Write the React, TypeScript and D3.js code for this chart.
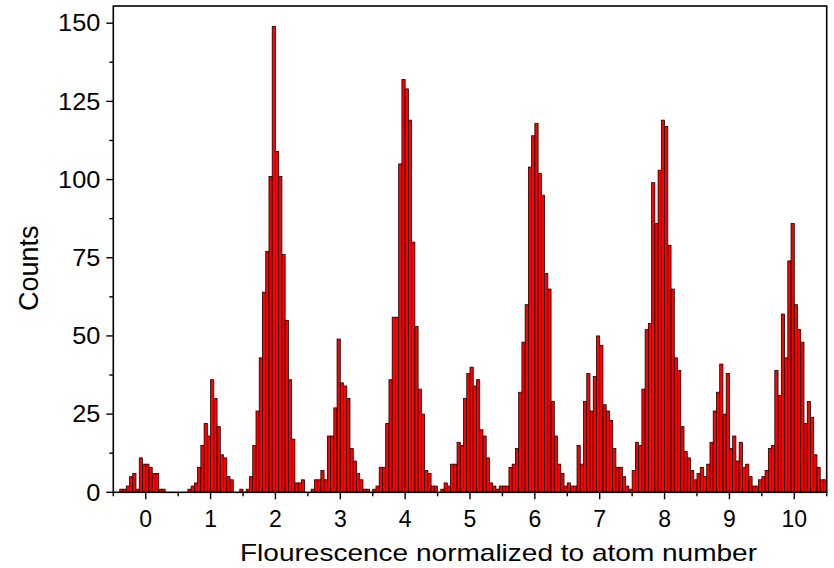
import React from "react";
import * as d3 from "d3";

// Histogram: first bin starts at BIN_START, each bin is BIN_WIDTH wide
const BIN_START = -0.5;
const BIN_WIDTH = 0.05;
const counts: number[] = [
  // -0.5 .. -0.05
  0, 0, 1, 1, 2, 5, 6, 1, 11, 9,
  // 0.0 .. 0.45
  9, 8, 6, 6, 1, 1, 0, 0, 0, 0,
  // 0.5 .. 0.95
  0, 0, 0, 1, 2, 3, 8, 15, 22, 18,
  // 1.0 .. 1.45
  36, 30, 21, 12, 11, 5, 4, 0, 0, 1,
  // 1.5 .. 1.95
  0, 1, 5, 15, 26, 43, 64, 77, 101, 149,
  // 2.0 .. 2.45
  109, 101, 76, 55, 36, 17, 3, 3, 4, 0,
  // 2.5 .. 2.95
  0, 1, 4, 4, 7, 4, 18, 18, 27, 49,
  // 3.0 .. 3.45
  35, 34, 30, 14, 10, 6, 4, 1, 1, 0,
  // 3.5 .. 3.95
  1, 2, 8, 8, 22, 36, 56, 56, 105, 132,
  // 4.0 .. 4.45
  129, 119, 80, 53, 33, 25, 7, 6, 2, 2,
  // 4.5 .. 4.95
  0, 1, 3, 2, 9, 9, 16, 15, 30, 38,
  // 5.0 .. 5.45
  40, 34, 36, 20, 18, 11, 3, 2, 1, 2,
  // 5.5 .. 5.95
  2, 2, 8, 9, 14, 32, 48, 60, 104, 114,
  // 6.0 .. 6.45
  118, 102, 95, 70, 65, 29, 18, 9, 6, 2,
  // 6.5 .. 6.95
  3, 2, 2, 15, 9, 29, 38, 26, 37, 50,
  // 7.0 .. 7.45
  47, 28, 26, 23, 14, 8, 8, 5, 2, 1,
  // 7.5 .. 7.95
  7, 16, 15, 33, 52, 54, 99, 86, 103, 119,
  // 8.0 .. 8.45
  117, 79, 65, 43, 39, 21, 13, 11, 7, 4,
  // 8.5 .. 8.95
  6, 8, 5, 9, 16, 26, 32, 41, 25, 38,
  // 9.0 .. 9.45
  14, 18, 10, 16, 8, 9, 5, 2, 2, 4,
  // 9.5 .. 9.95
  5, 7, 14, 15, 39, 31, 57, 43, 74, 86,
  // 10.0 .. 10.45
  60, 52, 48, 22, 29, 24, 12, 8, 4, 4,
];

const xTicks: number[] = [0, 1, 2, 3, 4, 5, 6, 7, 8, 9, 10];
const xMinorTicks: number[] = [-0.5, 0.5, 1.5, 2.5, 3.5, 4.5, 5.5, 6.5, 7.5, 8.5, 9.5, 10.5];
const yTicks: number[] = [0, 25, 50, 75, 100, 125, 150];
const yMinorTicks: number[] = [12.5, 37.5, 62.5, 87.5, 112.5, 137.5];
const xTitle = "Flourescence normalized to atom number";
const yTitle = "Counts";

const W = 834;
const H = 568;
const M = { left: 113.3, right: 826.7, top: 6, bottom: 492.3 };
const FONT = "'Liberation Sans', Arial, sans-serif";

export default function App() {
  const x = d3.scaleLinear().domain([-0.5, 10.5]).range([M.left, M.right]);
  const y = d3.scaleLinear().domain([0, 155.5]).range([M.bottom, M.top]);

  const bins = counts.map((c, i) => {
    const x0 = BIN_START + i * BIN_WIDTH;
    return { x0, x1: x0 + BIN_WIDTH, c };
  });

  return (
    <svg
      width={W}
      height={H}
      style={{ position: "absolute", left: 0, top: 0, background: "#fff" }}
    >
      <rect x={0} y={0} width={W} height={H} fill="#fff" />
      <g>
        {bins
          .filter((b) => b.c > 0)
          .map((b, i) => (
            <rect
              key={i}
              x={x(b.x0)}
              y={y(b.c)}
              width={x(b.x1) - x(b.x0)}
              height={y(0) - y(b.c)}
              fill="#ff0000"
              stroke="#000"
              strokeWidth={0.75}
            />
          ))}
      </g>
      {/* frame */}
      <rect
        x={M.left}
        y={M.top}
        width={M.right - M.left}
        height={M.bottom - M.top}
        fill="none"
        stroke="#000"
        strokeWidth={1.6}
      />
      {/* y ticks */}
      {yTicks.map((t) => (
        <g key={"yt" + t}>
          <line x1={M.left - 7} x2={M.left} y1={y(t)} y2={y(t)} stroke="#000" strokeWidth={1.4} />
          <text
            transform={`translate(${M.left - 13}, ${y(t)}) scale(1.1, 1)`}
            dy="0.36em"
            textAnchor="end"
            fontFamily={FONT}
            fontSize={23}
            fill="#000"
          >
            {t}
          </text>
        </g>
      ))}
      {yMinorTicks.map((t) => (
        <line key={"ym" + t} x1={M.left - 4} x2={M.left} y1={y(t)} y2={y(t)} stroke="#000" strokeWidth={1.4} />
      ))}
      {/* x ticks */}
      {xTicks.map((t) => (
        <g key={"xt" + t}>
          <line x1={x(t)} x2={x(t)} y1={M.bottom} y2={M.bottom + 7} stroke="#000" strokeWidth={1.4} />
          <text
            x={x(t)}
            y={526.5}
            textAnchor="middle"
            fontFamily={FONT}
            fontSize={23}
            fill="#000"
          >
            {t}
          </text>
        </g>
      ))}
      {xMinorTicks.map((t) => (
        <line key={"xm" + t} x1={x(t)} x2={x(t)} y1={M.bottom} y2={M.bottom + 4} stroke="#000" strokeWidth={1.4} />
      ))}
      {/* titles */}
      <text
        x={498.5}
        y={561}
        textAnchor="middle"
        fontFamily={FONT}
        fontSize={24}
        textLength={517}
        lengthAdjust="spacingAndGlyphs"
        fill="#000"
      >
        {xTitle}
      </text>
      <text
        transform={`translate(37.5, 268.3) rotate(-90)`}
        textAnchor="middle"
        fontFamily={FONT}
        fontSize={27}
        fill="#000"
      >
        {yTitle}
      </text>
    </svg>
  );
}
